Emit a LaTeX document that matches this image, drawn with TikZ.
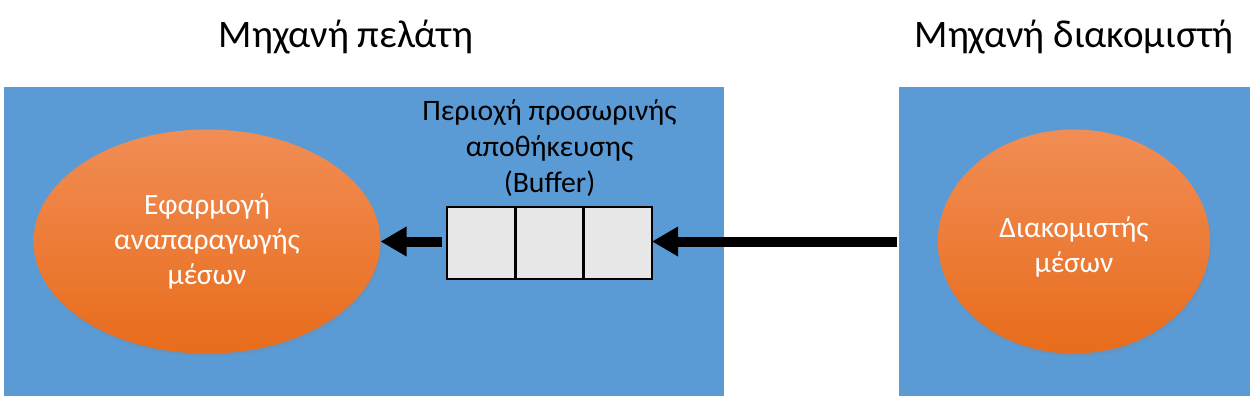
\documentclass[tikz,border=0pt]{standalone}
\usepackage{fontspec}
\setmainfont{Carlito}
\usetikzlibrary{arrows.meta,shapes.geometric,shadows,calc}
\definecolor{machineblue}{HTML}{5B9BD5}
\definecolor{orangetop}{HTML}{F18D55}
\definecolor{orangebot}{HTML}{E86C1B}
\definecolor{bufgray}{HTML}{E7E7E7}
\tikzset{
  machine/.style={fill=machineblue, draw=none, anchor=north west, inner sep=0pt, outer sep=0pt},
  title/.style={font=\fontsize{39}{44}\selectfont, anchor=base, inner sep=0pt},
  proc/.style={ellipse, top color=orangetop, bottom color=orangebot, draw=none,
    text=white, align=center, inner sep=0pt, outer sep=0pt,
    font=\fontsize{29.5}{35}\selectfont,
    drop shadow={opacity=0.25, shadow xshift=1.5pt, shadow yshift=-3pt}},
  bufbox/.style={rectangle, fill=bufgray, draw=black, line width=2.5pt,
    minimum width=205pt, minimum height=72pt, inner sep=0pt, outer sep=0pt},
  buflabel/.style={align=center, font=\fontsize{29.7}{36}\selectfont, inner sep=0pt},
  flow/.style={line width=10pt, -{Triangle[length=26pt,width=28pt]}}
}
\begin{document}
\begin{tikzpicture}[x=1pt,y=-1pt]
  \useasboundingbox (0,0) rectangle (1259,401);
  % machines
  \node[machine, minimum width=720pt, minimum height=309pt] (client) at (4,87) {};
  \node[machine, minimum width=351pt, minimum height=309pt] (server) at (899,87) {};
  % titles
  \node[title] (clienttitle) at (346,48) {Μηχανή πελάτη};
  \node[title] (servertitle) at (1074,48) {Μηχανή διακομιστή};
  % processes
  \node[proc, minimum width=347pt, minimum height=224pt] (app) at (207,241.5)
    {Εφαρμογή\\αναπαραγωγής\\μέσων};
  \node[proc, minimum width=272pt, minimum height=224pt] (srv) at (1074,241.5)
    {\rule{0pt}{31pt}Διακομιστής\\μέσων};
  % buffer
  \node[bufbox] (buffer) at (549.5,243) {};
  \draw[line width=2.5pt] ($(buffer.north west)!1/3!(buffer.north east)$) -- ($(buffer.south west)!1/3!(buffer.south east)$);
  \draw[line width=2.5pt] ($(buffer.north west)!2/3!(buffer.north east)$) -- ($(buffer.south west)!2/3!(buffer.south east)$);
  \node[buflabel, anchor=south] (buflbl) at ($(buffer.north)+(0,-10)$)
    {Περιοχή προσωρινής\\αποθήκευσης\\(Buffer)};
  % flows
  \draw[flow] ($(server.west)+(-2,0)$) -- (server.west -| buffer.east);
  \draw[flow] ($(buffer.west |- server.west)+(-5,0)$) -- (app.east);
\end{tikzpicture}
\end{document}
